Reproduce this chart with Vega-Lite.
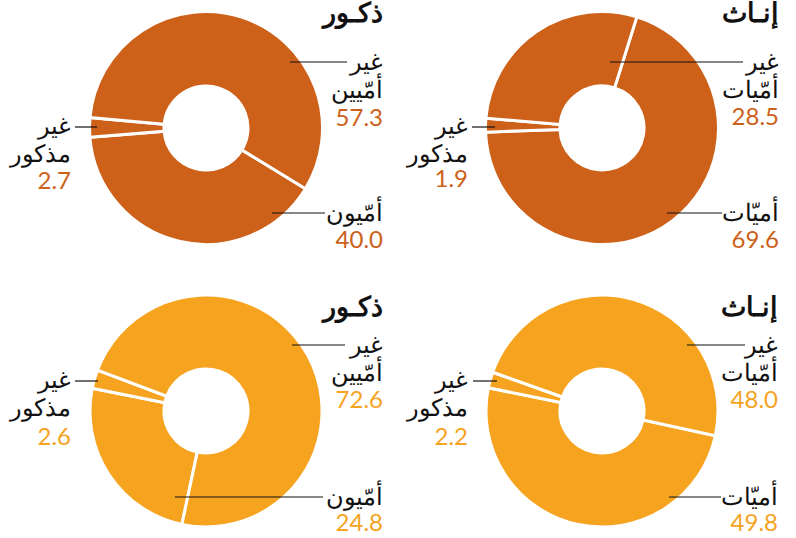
{
  "$schema": "https://vega.github.io/schema/vega-lite/v6.json",
  "padding": 0,
  "background": "white",
  "config": {"view": {"stroke": null}, "concat": {"spacing": 0}},
  "data": {"values": [
    {"row": 1, "sex": "ذكور", "category": "أمّيون", "value": 40.0},
    {"row": 1, "sex": "ذكور", "category": "غير مذكور", "value": 2.7},
    {"row": 1, "sex": "ذكور", "category": "غير أمّيين", "value": 57.3},
    {"row": 1, "sex": "إناث", "category": "أميّات", "value": 69.6},
    {"row": 1, "sex": "إناث", "category": "غير مذكور", "value": 1.9},
    {"row": 1, "sex": "إناث", "category": "غير أمّيات", "value": 28.5},
    {"row": 2, "sex": "ذكور", "category": "أمّيون", "value": 24.8},
    {"row": 2, "sex": "ذكور", "category": "غير مذكور", "value": 2.6},
    {"row": 2, "sex": "ذكور", "category": "غير أمّيين", "value": 72.6},
    {"row": 2, "sex": "إناث", "category": "أميّات", "value": 49.8},
    {"row": 2, "sex": "إناث", "category": "غير مذكور", "value": 2.2},
    {"row": 2, "sex": "إناث", "category": "غير أمّيات", "value": 48.0}
  ]},
  "spacing": 0,
  "vconcat": [
    {"spacing": 0, "hconcat": [
      {
        "width": 398, "height": 270,
        "transform": [{"filter": "datum.row == 1 && datum.sex == 'ذكور'"}],
        "layer": [
          {"mark": {"type": "arc", "innerRadius": 42, "outerRadius": 116.5, "stroke": "white", "strokeWidth": 3, "color": "#cd6119"},
           "encoding": {"theta": {"field": "value", "type": "quantitative", "stack": true, "scale": {"range": [2.1188, 8.4020]}},
             "x": {"datum": 0, "type": "quantitative", "scale": {"domain": [-206, 192], "nice": false, "zero": false}, "axis": null},
             "y": {"datum": 0, "type": "quantitative", "scale": {"domain": [-128, 142], "nice": false, "zero": false, "reverse": true}, "axis": null}}},
          {"data": {"values": [{"t": "ذكـور"}]},
           "mark": {"type": "text", "align": "right", "baseline": "alphabetic", "fontSize": 27, "fontWeight": "bold", "color": "#111"},
           "encoding": {"text": {"field": "t"}, "x": {"datum": 177, "type": "quantitative"}, "y": {"datum": -106, "type": "quantitative"}}},
          {"transform": [{"filter": "datum.category == 'غير أمّيين' || datum.category == 'غير أمّيات'"}],
           "mark": {"type": "rule", "color": "#111", "strokeWidth": 1.2},
           "encoding": {"x": {"datum": 84, "type": "quantitative"}, "x2": {"datum": 141}, "y": {"datum": -66, "type": "quantitative"}}},
          {"transform": [{"filter": "datum.category == 'غير أمّيين' || datum.category == 'غير أمّيات'"}],
           "mark": {"type": "text", "align": "right", "baseline": "alphabetic", "fontSize": 24, "lineBreak": " ", "lineHeight": 28, "color": "#111"},
           "encoding": {"text": {"field": "category"}, "x": {"datum": 177, "type": "quantitative"}, "y": {"datum": -58, "type": "quantitative"}}},
          {"transform": [{"filter": "datum.category == 'غير أمّيين' || datum.category == 'غير أمّيات'"}],
           "mark": {"type": "text", "align": "right", "baseline": "alphabetic", "fontSize": 24, "font": "Lato", "color": "#cd6119"},
           "encoding": {"text": {"field": "value", "type": "quantitative", "format": ".1f"}, "x": {"datum": 177, "type": "quantitative"}, "y": {"datum": -2, "type": "quantitative"}}},
          {"transform": [{"filter": "datum.category == 'أمّيون' || datum.category == 'أميّات'"}],
           "mark": {"type": "rule", "color": "#111", "strokeWidth": 1.2},
           "encoding": {"x": {"datum": 66, "type": "quantitative"}, "x2": {"datum": 119}, "y": {"datum": 85, "type": "quantitative"}}},
          {"transform": [{"filter": "datum.category == 'أمّيون' || datum.category == 'أميّات'"}],
           "mark": {"type": "text", "align": "right", "baseline": "alphabetic", "fontSize": 24, "lineBreak": " ", "lineHeight": 28, "color": "#111"},
           "encoding": {"text": {"field": "category"}, "x": {"datum": 177, "type": "quantitative"}, "y": {"datum": 93, "type": "quantitative"}}},
          {"transform": [{"filter": "datum.category == 'أمّيون' || datum.category == 'أميّات'"}],
           "mark": {"type": "text", "align": "right", "baseline": "alphabetic", "fontSize": 24, "font": "Lato", "color": "#cd6119"},
           "encoding": {"text": {"field": "value", "type": "quantitative", "format": ".1f"}, "x": {"datum": 177, "type": "quantitative"}, "y": {"datum": 120, "type": "quantitative"}}},
          {"transform": [{"filter": "datum.category == 'غير مذكور'"}],
           "mark": {"type": "rule", "color": "#111", "strokeWidth": 1.2},
           "encoding": {"x": {"datum": -131, "type": "quantitative"}, "x2": {"datum": -109}, "y": {"datum": -1, "type": "quantitative"}}},
          {"transform": [{"filter": "datum.category == 'غير مذكور'"}],
           "mark": {"type": "text", "align": "right", "baseline": "alphabetic", "fontSize": 24, "lineBreak": " ", "lineHeight": 28, "color": "#111"},
           "encoding": {"text": {"field": "category"}, "x": {"datum": -135, "type": "quantitative"}, "y": {"datum": 6, "type": "quantitative"}}},
          {"transform": [{"filter": "datum.category == 'غير مذكور'"}],
           "mark": {"type": "text", "align": "right", "baseline": "alphabetic", "fontSize": 24, "font": "Lato", "color": "#cd6119"},
           "encoding": {"text": {"field": "value", "type": "quantitative", "format": ".1f"}, "x": {"datum": -135, "type": "quantitative"}, "y": {"datum": 61, "type": "quantitative"}}}
        ]
      },
      {
        "width": 398, "height": 270,
        "transform": [{"filter": "datum.row == 1 && datum.sex == 'إناث'"}],
        "layer": [
          {"mark": {"type": "arc", "innerRadius": 42, "outerRadius": 116.5, "stroke": "white", "strokeWidth": 3, "color": "#cd6119"},
           "encoding": {"theta": {"field": "value", "type": "quantitative", "stack": true, "scale": {"range": [0.3037, 6.5869]}},
             "x": {"datum": 0, "type": "quantitative", "scale": {"domain": [-204, 194], "nice": false, "zero": false}, "axis": null},
             "y": {"datum": 0, "type": "quantitative", "scale": {"domain": [-128, 142], "nice": false, "zero": false, "reverse": true}, "axis": null}}},
          {"data": {"values": [{"t": "إنـاث"}]},
           "mark": {"type": "text", "align": "right", "baseline": "alphabetic", "fontSize": 27, "fontWeight": "bold", "color": "#111"},
           "encoding": {"text": {"field": "t"}, "x": {"datum": 177, "type": "quantitative"}, "y": {"datum": -106, "type": "quantitative"}}},
          {"transform": [{"filter": "datum.category == 'غير أمّيين' || datum.category == 'غير أمّيات'"}],
           "mark": {"type": "rule", "color": "#111", "strokeWidth": 1.2},
           "encoding": {"x": {"datum": 8, "type": "quantitative"}, "x2": {"datum": 141}, "y": {"datum": -66, "type": "quantitative"}}},
          {"transform": [{"filter": "datum.category == 'غير أمّيين' || datum.category == 'غير أمّيات'"}],
           "mark": {"type": "text", "align": "right", "baseline": "alphabetic", "fontSize": 24, "lineBreak": " ", "lineHeight": 28, "color": "#111"},
           "encoding": {"text": {"field": "category"}, "x": {"datum": 177, "type": "quantitative"}, "y": {"datum": -58, "type": "quantitative"}}},
          {"transform": [{"filter": "datum.category == 'غير أمّيين' || datum.category == 'غير أمّيات'"}],
           "mark": {"type": "text", "align": "right", "baseline": "alphabetic", "fontSize": 24, "font": "Lato", "color": "#cd6119"},
           "encoding": {"text": {"field": "value", "type": "quantitative", "format": ".1f"}, "x": {"datum": 177, "type": "quantitative"}, "y": {"datum": -3, "type": "quantitative"}}},
          {"transform": [{"filter": "datum.category == 'أمّيون' || datum.category == 'أميّات'"}],
           "mark": {"type": "rule", "color": "#111", "strokeWidth": 1.2},
           "encoding": {"x": {"datum": 65, "type": "quantitative"}, "x2": {"datum": 120}, "y": {"datum": 85, "type": "quantitative"}}},
          {"transform": [{"filter": "datum.category == 'أمّيون' || datum.category == 'أميّات'"}],
           "mark": {"type": "text", "align": "right", "baseline": "alphabetic", "fontSize": 24, "lineBreak": " ", "lineHeight": 28, "color": "#111"},
           "encoding": {"text": {"field": "category"}, "x": {"datum": 177, "type": "quantitative"}, "y": {"datum": 93, "type": "quantitative"}}},
          {"transform": [{"filter": "datum.category == 'أمّيون' || datum.category == 'أميّات'"}],
           "mark": {"type": "text", "align": "right", "baseline": "alphabetic", "fontSize": 24, "font": "Lato", "color": "#cd6119"},
           "encoding": {"text": {"field": "value", "type": "quantitative", "format": ".1f"}, "x": {"datum": 177, "type": "quantitative"}, "y": {"datum": 120, "type": "quantitative"}}},
          {"transform": [{"filter": "datum.category == 'غير مذكور'"}],
           "mark": {"type": "rule", "color": "#111", "strokeWidth": 1.2},
           "encoding": {"x": {"datum": -130, "type": "quantitative"}, "x2": {"datum": -107}, "y": {"datum": -1, "type": "quantitative"}}},
          {"transform": [{"filter": "datum.category == 'غير مذكور'"}],
           "mark": {"type": "text", "align": "right", "baseline": "alphabetic", "fontSize": 24, "lineBreak": " ", "lineHeight": 28, "color": "#111"},
           "encoding": {"text": {"field": "category"}, "x": {"datum": -134, "type": "quantitative"}, "y": {"datum": 6, "type": "quantitative"}}},
          {"transform": [{"filter": "datum.category == 'غير مذكور'"}],
           "mark": {"type": "text", "align": "right", "baseline": "alphabetic", "fontSize": 24, "font": "Lato", "color": "#cd6119"},
           "encoding": {"text": {"field": "value", "type": "quantitative", "format": ".1f"}, "x": {"datum": -134, "type": "quantitative"}, "y": {"datum": 59, "type": "quantitative"}}}
        ]
      }
    ]},
    {"spacing": 0, "hconcat": [
      {
        "width": 398, "height": 268,
        "transform": [{"filter": "datum.row == 2 && datum.sex == 'ذكور'"}],
        "layer": [
          {"mark": {"type": "arc", "innerRadius": 42, "outerRadius": 116, "stroke": "white", "strokeWidth": 3, "color": "#f6a31f"},
           "encoding": {"theta": {"field": "value", "type": "quantitative", "stack": true, "scale": {"range": [3.3510, 9.6342]}},
             "x": {"datum": 0, "type": "quantitative", "scale": {"domain": [-206, 192], "nice": false, "zero": false}, "axis": null},
             "y": {"datum": 0, "type": "quantitative", "scale": {"domain": [-141, 127], "nice": false, "zero": false, "reverse": true}, "axis": null}}},
          {"data": {"values": [{"t": "ذكـور"}]},
           "mark": {"type": "text", "align": "right", "baseline": "alphabetic", "fontSize": 27, "fontWeight": "bold", "color": "#111"},
           "encoding": {"text": {"field": "t"}, "x": {"datum": 177, "type": "quantitative"}, "y": {"datum": -95, "type": "quantitative"}}},
          {"transform": [{"filter": "datum.category == 'غير أمّيين' || datum.category == 'غير أمّيات'"}],
           "mark": {"type": "rule", "color": "#111", "strokeWidth": 1.2},
           "encoding": {"x": {"datum": 86, "type": "quantitative"}, "x2": {"datum": 139}, "y": {"datum": -66, "type": "quantitative"}}},
          {"transform": [{"filter": "datum.category == 'غير أمّيين' || datum.category == 'غير أمّيات'"}],
           "mark": {"type": "text", "align": "right", "baseline": "alphabetic", "fontSize": 24, "lineBreak": " ", "lineHeight": 28, "color": "#111"},
           "encoding": {"text": {"field": "category"}, "x": {"datum": 177, "type": "quantitative"}, "y": {"datum": -58, "type": "quantitative"}}},
          {"transform": [{"filter": "datum.category == 'غير أمّيين' || datum.category == 'غير أمّيات'"}],
           "mark": {"type": "text", "align": "right", "baseline": "alphabetic", "fontSize": 24, "font": "Lato", "color": "#f6a31f"},
           "encoding": {"text": {"field": "value", "type": "quantitative", "format": ".1f"}, "x": {"datum": 177, "type": "quantitative"}, "y": {"datum": -3, "type": "quantitative"}}},
          {"transform": [{"filter": "datum.category == 'أمّيون' || datum.category == 'أميّات'"}],
           "mark": {"type": "rule", "color": "#111", "strokeWidth": 1.2},
           "encoding": {"x": {"datum": -31, "type": "quantitative"}, "x2": {"datum": 117}, "y": {"datum": 86, "type": "quantitative"}}},
          {"transform": [{"filter": "datum.category == 'أمّيون' || datum.category == 'أميّات'"}],
           "mark": {"type": "text", "align": "right", "baseline": "alphabetic", "fontSize": 24, "lineBreak": " ", "lineHeight": 28, "color": "#111"},
           "encoding": {"text": {"field": "category"}, "x": {"datum": 177, "type": "quantitative"}, "y": {"datum": 94, "type": "quantitative"}}},
          {"transform": [{"filter": "datum.category == 'أمّيون' || datum.category == 'أميّات'"}],
           "mark": {"type": "text", "align": "right", "baseline": "alphabetic", "fontSize": 24, "font": "Lato", "color": "#f6a31f"},
           "encoding": {"text": {"field": "value", "type": "quantitative", "format": ".1f"}, "x": {"datum": 177, "type": "quantitative"}, "y": {"datum": 120, "type": "quantitative"}}},
          {"transform": [{"filter": "datum.category == 'غير مذكور'"}],
           "mark": {"type": "rule", "color": "#111", "strokeWidth": 1.2},
           "encoding": {"x": {"datum": -131, "type": "quantitative"}, "x2": {"datum": -108}, "y": {"datum": -30, "type": "quantitative"}}},
          {"transform": [{"filter": "datum.category == 'غير مذكور'"}],
           "mark": {"type": "text", "align": "right", "baseline": "alphabetic", "fontSize": 24, "lineBreak": " ", "lineHeight": 28, "color": "#111"},
           "encoding": {"text": {"field": "category"}, "x": {"datum": -135, "type": "quantitative"}, "y": {"datum": -23, "type": "quantitative"}}},
          {"transform": [{"filter": "datum.category == 'غير مذكور'"}],
           "mark": {"type": "text", "align": "right", "baseline": "alphabetic", "fontSize": 24, "font": "Lato", "color": "#f6a31f"},
           "encoding": {"text": {"field": "value", "type": "quantitative", "format": ".1f"}, "x": {"datum": -135, "type": "quantitative"}, "y": {"datum": 34, "type": "quantitative"}}}
        ]
      },
      {
        "width": 398, "height": 268,
        "transform": [{"filter": "datum.row == 2 && datum.sex == 'إناث'"}],
        "layer": [
          {"mark": {"type": "arc", "innerRadius": 42, "outerRadius": 116, "stroke": "white", "strokeWidth": 3, "color": "#f6a31f"},
           "encoding": {"theta": {"field": "value", "type": "quantitative", "stack": true, "scale": {"range": [1.7855, 8.0687]}},
             "x": {"datum": 0, "type": "quantitative", "scale": {"domain": [-204, 194], "nice": false, "zero": false}, "axis": null},
             "y": {"datum": 0, "type": "quantitative", "scale": {"domain": [-141, 127], "nice": false, "zero": false, "reverse": true}, "axis": null}}},
          {"data": {"values": [{"t": "إنـاث"}]},
           "mark": {"type": "text", "align": "right", "baseline": "alphabetic", "fontSize": 27, "fontWeight": "bold", "color": "#111"},
           "encoding": {"text": {"field": "t"}, "x": {"datum": 176, "type": "quantitative"}, "y": {"datum": -95, "type": "quantitative"}}},
          {"transform": [{"filter": "datum.category == 'غير أمّيين' || datum.category == 'غير أمّيات'"}],
           "mark": {"type": "rule", "color": "#111", "strokeWidth": 1.2},
           "encoding": {"x": {"datum": 85, "type": "quantitative"}, "x2": {"datum": 143}, "y": {"datum": -66, "type": "quantitative"}}},
          {"transform": [{"filter": "datum.category == 'غير أمّيين' || datum.category == 'غير أمّيات'"}],
           "mark": {"type": "text", "align": "right", "baseline": "alphabetic", "fontSize": 24, "lineBreak": " ", "lineHeight": 28, "color": "#111"},
           "encoding": {"text": {"field": "category"}, "x": {"datum": 176, "type": "quantitative"}, "y": {"datum": -58, "type": "quantitative"}}},
          {"transform": [{"filter": "datum.category == 'غير أمّيين' || datum.category == 'غير أمّيات'"}],
           "mark": {"type": "text", "align": "right", "baseline": "alphabetic", "fontSize": 24, "font": "Lato", "color": "#f6a31f"},
           "encoding": {"text": {"field": "value", "type": "quantitative", "format": ".1f"}, "x": {"datum": 176, "type": "quantitative"}, "y": {"datum": -3, "type": "quantitative"}}},
          {"transform": [{"filter": "datum.category == 'أمّيون' || datum.category == 'أميّات'"}],
           "mark": {"type": "rule", "color": "#111", "strokeWidth": 1.2},
           "encoding": {"x": {"datum": 67, "type": "quantitative"}, "x2": {"datum": 119}, "y": {"datum": 86, "type": "quantitative"}}},
          {"transform": [{"filter": "datum.category == 'أمّيون' || datum.category == 'أميّات'"}],
           "mark": {"type": "text", "align": "right", "baseline": "alphabetic", "fontSize": 24, "lineBreak": " ", "lineHeight": 28, "color": "#111"},
           "encoding": {"text": {"field": "category"}, "x": {"datum": 176, "type": "quantitative"}, "y": {"datum": 94, "type": "quantitative"}}},
          {"transform": [{"filter": "datum.category == 'أمّيون' || datum.category == 'أميّات'"}],
           "mark": {"type": "text", "align": "right", "baseline": "alphabetic", "fontSize": 24, "font": "Lato", "color": "#f6a31f"},
           "encoding": {"text": {"field": "value", "type": "quantitative", "format": ".1f"}, "x": {"datum": 176, "type": "quantitative"}, "y": {"datum": 120, "type": "quantitative"}}},
          {"transform": [{"filter": "datum.category == 'غير مذكور'"}],
           "mark": {"type": "rule", "color": "#111", "strokeWidth": 1.2},
           "encoding": {"x": {"datum": -129, "type": "quantitative"}, "x2": {"datum": -105}, "y": {"datum": -30, "type": "quantitative"}}},
          {"transform": [{"filter": "datum.category == 'غير مذكور'"}],
           "mark": {"type": "text", "align": "right", "baseline": "alphabetic", "fontSize": 24, "lineBreak": " ", "lineHeight": 28, "color": "#111"},
           "encoding": {"text": {"field": "category"}, "x": {"datum": -134, "type": "quantitative"}, "y": {"datum": -23, "type": "quantitative"}}},
          {"transform": [{"filter": "datum.category == 'غير مذكور'"}],
           "mark": {"type": "text", "align": "right", "baseline": "alphabetic", "fontSize": 24, "font": "Lato", "color": "#f6a31f"},
           "encoding": {"text": {"field": "value", "type": "quantitative", "format": ".1f"}, "x": {"datum": -134, "type": "quantitative"}, "y": {"datum": 34, "type": "quantitative"}}}
        ]
      }
    ]}
  ]
}
